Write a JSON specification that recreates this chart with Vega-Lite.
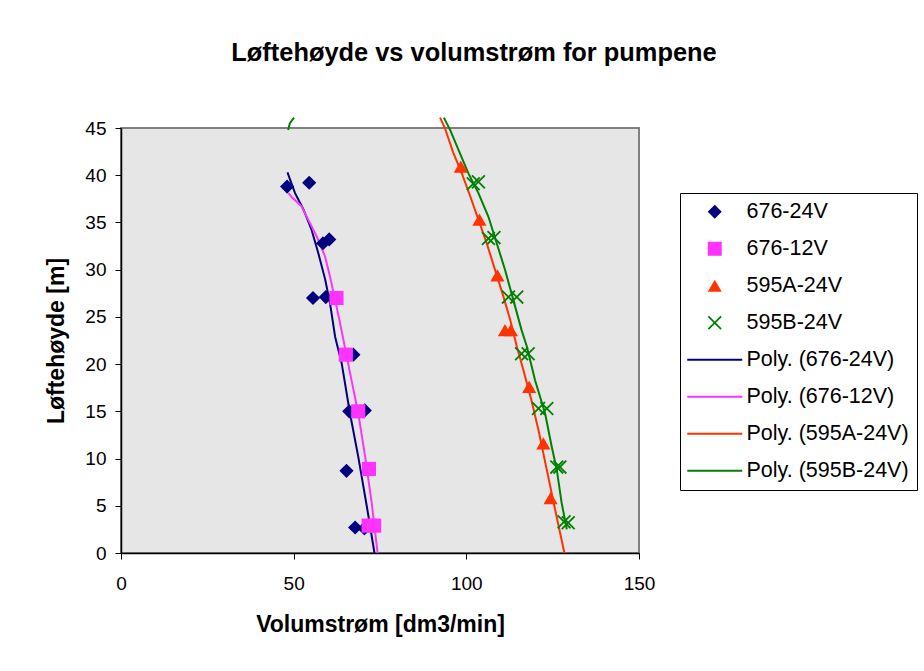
{
  "$schema": "https://vega.github.io/schema/vega-lite/v6.json",
  "width": 518,
  "height": 425,
  "autosize": {"type": "none"},
  "padding": {"left": 121, "top": 128, "right": 285, "bottom": 118},
  "background": "white",
  "config": {
    "font": "Liberation Sans",
    "view": {"fill": "#E6E6E6", "stroke": "#808080", "strokeWidth": 2},
    "axis": {
      "grid": false,
      "domainColor": "black",
      "domainWidth": 1.5,
      "tickColor": "black",
      "tickSize": 6,
      "labelColor": "black",
      "titleColor": "black",
      "labelFont": "Liberation Sans",
      "titleFont": "Liberation Sans",
      "labelFontSize": 19,
      "titleFontSize": 23,
      "titleFontWeight": "bold",
      "labelFlush": false
    }
  },
  "title": {
    "text": "Løftehøyde vs volumstrøm for pumpene",
    "frame": "group",
    "anchor": "middle",
    "dx": 94,
    "fontSize": 25.4,
    "fontWeight": "bold",
    "font": "Liberation Sans",
    "color": "black",
    "baseline": "alphabetic",
    "offset": 27,
    "limit": 0
  },
  "datasets": {
    "pts": [
      {"s": "676-24V", "v": 48.1, "h": 38.8},
      {"s": "676-24V", "v": 54.5, "h": 39.2},
      {"s": "676-24V", "v": 58.5, "h": 32.8},
      {"s": "676-24V", "v": 60.3, "h": 33.2},
      {"s": "676-24V", "v": 55.6, "h": 27.0},
      {"s": "676-24V", "v": 59.3, "h": 27.1},
      {"s": "676-24V", "v": 67.3, "h": 21.0},
      {"s": "676-24V", "v": 66.1, "h": 15.0},
      {"s": "676-24V", "v": 70.6, "h": 15.1},
      {"s": "676-24V", "v": 65.3, "h": 8.7},
      {"s": "676-24V", "v": 67.8, "h": 2.7},
      {"s": "676-24V", "v": 70.5, "h": 2.6},
      {"s": "676-12V", "v": 62.4, "h": 27.0},
      {"s": "676-12V", "v": 65.1, "h": 21.0},
      {"s": "676-12V", "v": 68.7, "h": 15.0},
      {"s": "676-12V", "v": 71.8, "h": 8.9},
      {"s": "676-12V", "v": 71.7, "h": 2.9},
      {"s": "676-12V", "v": 73.3, "h": 2.9},
      {"s": "595A-24V", "v": 98.4, "h": 40.9},
      {"s": "595A-24V", "v": 103.8, "h": 35.3},
      {"s": "595A-24V", "v": 109.0, "h": 29.4},
      {"s": "595A-24V", "v": 111.2, "h": 23.6},
      {"s": "595A-24V", "v": 112.9, "h": 23.6},
      {"s": "595A-24V", "v": 118.2, "h": 17.6},
      {"s": "595A-24V", "v": 122.3, "h": 11.6},
      {"s": "595A-24V", "v": 124.4, "h": 5.8},
      {"s": "595B-24V", "v": 102.0, "h": 39.1},
      {"s": "595B-24V", "v": 103.5, "h": 39.3},
      {"s": "595B-24V", "v": 106.4, "h": 33.3},
      {"s": "595B-24V", "v": 108.0, "h": 33.4},
      {"s": "595B-24V", "v": 112.2, "h": 27.1},
      {"s": "595B-24V", "v": 114.6, "h": 27.1},
      {"s": "595B-24V", "v": 116.0, "h": 21.1},
      {"s": "595B-24V", "v": 117.9, "h": 21.1},
      {"s": "595B-24V", "v": 120.9, "h": 15.3},
      {"s": "595B-24V", "v": 123.3, "h": 15.3},
      {"s": "595B-24V", "v": 126.2, "h": 9.1},
      {"s": "595B-24V", "v": 127.1, "h": 9.1},
      {"s": "595B-24V", "v": 128.3, "h": 3.3},
      {"s": "595B-24V", "v": 129.5, "h": 3.2}
    ],
    "lines": [
      {"s": "Poly. (676-24V)", "seg": 1, "v": 48.2, "h": 40.3},
      {"s": "Poly. (676-24V)", "seg": 1, "v": 50.4, "h": 38.1},
      {"s": "Poly. (676-24V)", "seg": 1, "v": 52.8, "h": 36.4},
      {"s": "Poly. (676-24V)", "seg": 1, "v": 55.2, "h": 34.2},
      {"s": "Poly. (676-24V)", "seg": 1, "v": 57.1, "h": 31.8},
      {"s": "Poly. (676-24V)", "seg": 1, "v": 59.1, "h": 29.0},
      {"s": "Poly. (676-24V)", "seg": 1, "v": 60.5, "h": 26.5},
      {"s": "Poly. (676-24V)", "seg": 1, "v": 62.0, "h": 22.9},
      {"s": "Poly. (676-24V)", "seg": 1, "v": 63.9, "h": 20.1},
      {"s": "Poly. (676-24V)", "seg": 1, "v": 66.3, "h": 14.8},
      {"s": "Poly. (676-24V)", "seg": 1, "v": 68.7, "h": 10.2},
      {"s": "Poly. (676-24V)", "seg": 1, "v": 71.2, "h": 4.9},
      {"s": "Poly. (676-24V)", "seg": 1, "v": 73.4, "h": 0.0},
      {"s": "Poly. (676-12V)", "seg": 1, "v": 48.5, "h": 38.1},
      {"s": "Poly. (676-12V)", "seg": 1, "v": 49.4, "h": 37.7},
      {"s": "Poly. (676-12V)", "seg": 1, "v": 52.3, "h": 36.7},
      {"s": "Poly. (676-12V)", "seg": 1, "v": 54.2, "h": 35.3},
      {"s": "Poly. (676-12V)", "seg": 1, "v": 56.7, "h": 33.5},
      {"s": "Poly. (676-12V)", "seg": 1, "v": 59.1, "h": 31.4},
      {"s": "Poly. (676-12V)", "seg": 1, "v": 60.5, "h": 29.3},
      {"s": "Poly. (676-12V)", "seg": 1, "v": 62.0, "h": 26.8},
      {"s": "Poly. (676-12V)", "seg": 1, "v": 63.4, "h": 24.4},
      {"s": "Poly. (676-12V)", "seg": 1, "v": 66.3, "h": 19.1},
      {"s": "Poly. (676-12V)", "seg": 1, "v": 68.7, "h": 14.8},
      {"s": "Poly. (676-12V)", "seg": 1, "v": 70.7, "h": 10.2},
      {"s": "Poly. (676-12V)", "seg": 1, "v": 72.6, "h": 5.3},
      {"s": "Poly. (676-12V)", "seg": 1, "v": 74.3, "h": 0.0},
      {"s": "Poly. (595A-24V)", "seg": 1, "v": 92.4, "h": 46.1},
      {"s": "Poly. (595A-24V)", "seg": 1, "v": 93.8, "h": 45.0},
      {"s": "Poly. (595A-24V)", "seg": 1, "v": 96.2, "h": 42.4},
      {"s": "Poly. (595A-24V)", "seg": 1, "v": 98.7, "h": 40.2},
      {"s": "Poly. (595A-24V)", "seg": 1, "v": 101.1, "h": 37.8},
      {"s": "Poly. (595A-24V)", "seg": 1, "v": 103.5, "h": 35.3},
      {"s": "Poly. (595A-24V)", "seg": 1, "v": 105.9, "h": 32.8},
      {"s": "Poly. (595A-24V)", "seg": 1, "v": 108.3, "h": 30.0},
      {"s": "Poly. (595A-24V)", "seg": 1, "v": 110.7, "h": 27.2},
      {"s": "Poly. (595A-24V)", "seg": 1, "v": 112.7, "h": 24.7},
      {"s": "Poly. (595A-24V)", "seg": 1, "v": 114.6, "h": 21.9},
      {"s": "Poly. (595A-24V)", "seg": 1, "v": 116.5, "h": 19.4},
      {"s": "Poly. (595A-24V)", "seg": 1, "v": 118.9, "h": 16.1},
      {"s": "Poly. (595A-24V)", "seg": 1, "v": 120.9, "h": 13.0},
      {"s": "Poly. (595A-24V)", "seg": 1, "v": 123.3, "h": 8.8},
      {"s": "Poly. (595A-24V)", "seg": 1, "v": 125.7, "h": 4.6},
      {"s": "Poly. (595A-24V)", "seg": 1, "v": 128.4, "h": 0.0},
      {"s": "Poly. (595B-24V)", "seg": 0, "v": 48.4, "h": 44.8},
      {"s": "Poly. (595B-24V)", "seg": 0, "v": 48.9, "h": 45.5},
      {"s": "Poly. (595B-24V)", "seg": 0, "v": 50.1, "h": 46.1},
      {"s": "Poly. (595B-24V)", "seg": 1, "v": 93.5, "h": 46.1},
      {"s": "Poly. (595B-24V)", "seg": 1, "v": 95.3, "h": 44.8},
      {"s": "Poly. (595B-24V)", "seg": 1, "v": 97.7, "h": 42.7},
      {"s": "Poly. (595B-24V)", "seg": 1, "v": 100.6, "h": 40.2},
      {"s": "Poly. (595B-24V)", "seg": 1, "v": 103.5, "h": 38.1},
      {"s": "Poly. (595B-24V)", "seg": 1, "v": 106.4, "h": 35.6},
      {"s": "Poly. (595B-24V)", "seg": 1, "v": 108.8, "h": 32.8},
      {"s": "Poly. (595B-24V)", "seg": 1, "v": 111.2, "h": 30.0},
      {"s": "Poly. (595B-24V)", "seg": 1, "v": 113.6, "h": 26.8},
      {"s": "Poly. (595B-24V)", "seg": 1, "v": 116.0, "h": 23.6},
      {"s": "Poly. (595B-24V)", "seg": 1, "v": 117.5, "h": 21.9},
      {"s": "Poly. (595B-24V)", "seg": 1, "v": 119.9, "h": 18.3},
      {"s": "Poly. (595B-24V)", "seg": 1, "v": 122.8, "h": 14.8},
      {"s": "Poly. (595B-24V)", "seg": 1, "v": 124.7, "h": 11.3},
      {"s": "Poly. (595B-24V)", "seg": 1, "v": 126.2, "h": 8.8},
      {"s": "Poly. (595B-24V)", "seg": 1, "v": 127.6, "h": 5.3},
      {"s": "Poly. (595B-24V)", "seg": 1, "v": 129.1, "h": 2.5}
    ]
  },
  "encoding": {
    "x": {
      "field": "v",
      "type": "quantitative",
      "scale": {"domain": [0, 150], "nice": false, "zero": false},
      "axis": {"values": [0, 50, 100, 150], "title": "Volumstrøm [dm3/min]", "labelPadding": 15, "titlePadding": 20}
    },
    "y": {
      "field": "h",
      "type": "quantitative",
      "scale": {"domain": [0, 45], "nice": false, "zero": false},
      "axis": {"values": [0, 5, 10, 15, 20, 25, 30, 35, 40, 45], "title": "Løftehøyde [m]", "labelPadding": 9, "titlePadding": 16}
    },
    "color": {
      "field": "s",
      "type": "nominal",
      "scale": {
        "domain": ["676-24V", "676-12V", "595A-24V", "595B-24V", "Poly. (676-24V)", "Poly. (676-12V)", "Poly. (595A-24V)", "Poly. (595B-24V)"],
        "range": ["#000080", "#FF33FF", "#FF3300", "#008000", "#000080", "#FF33FF", "#FF3300", "#008000"]
      },
      "legend": {
        "title": null,
        "orient": "none",
        "legendX": 559,
        "legendY": 65,
        "strokeColor": "black",
        "fillColor": "white",
        "padding": 8,
        "rowPadding": 14,
        "labelFont": "Liberation Sans",
        "labelFontSize": 21.5,
        "labelColor": "black",
        "labelLimit": 300,
        "symbolSize": 196,
        "symbolOffset": 16,
        "labelOffset": 21,
        "symbolStrokeWidth": 0,
        "encode": {
          "symbols": {
            "update": {
              "fill": {"scale": "color", "field": "value"},
              "shape": {"scale": "shape", "field": "value"},
              "opacity": {"value": 1},
              "strokeWidth": {"value": 0}
            }
          }
        }
      }
    }
  },
  "layer": [
    {
      "data": {"name": "lines"},
      "mark": {"type": "line", "strokeWidth": 2, "clip": false},
      "encoding": {"detail": {"field": "seg", "type": "nominal"}}
    },
    {
      "data": {"name": "pts"},
      "mark": {"type": "point", "filled": true, "size": 200, "opacity": 1},
      "encoding": {
        "shape": {
          "field": "s",
          "type": "nominal",
          "legend": null,
          "scale": {
            "domain": ["676-24V", "676-12V", "595A-24V", "595B-24V", "Poly. (676-24V)", "Poly. (676-12V)", "Poly. (595A-24V)", "Poly. (595B-24V)"],
            "range": ["diamond", "square", "triangle-up", "M-1,-0.82L-0.82,-1L0,-0.18L0.82,-1L1,-0.82L0.18,0L1,0.82L0.82,1L0,0.18L-0.82,1L-1,0.82L-0.18,0Z", "M-3.93,-0.14L3.93,-0.14L3.93,0.14L-3.93,0.14Z", "M-3.93,-0.14L3.93,-0.14L3.93,0.14L-3.93,0.14Z", "M-3.93,-0.14L3.93,-0.14L3.93,0.14L-3.93,0.14Z", "M-3.93,-0.14L3.93,-0.14L3.93,0.14L-3.93,0.14Z"]
          }
        }
      }
    }
  ]
}
